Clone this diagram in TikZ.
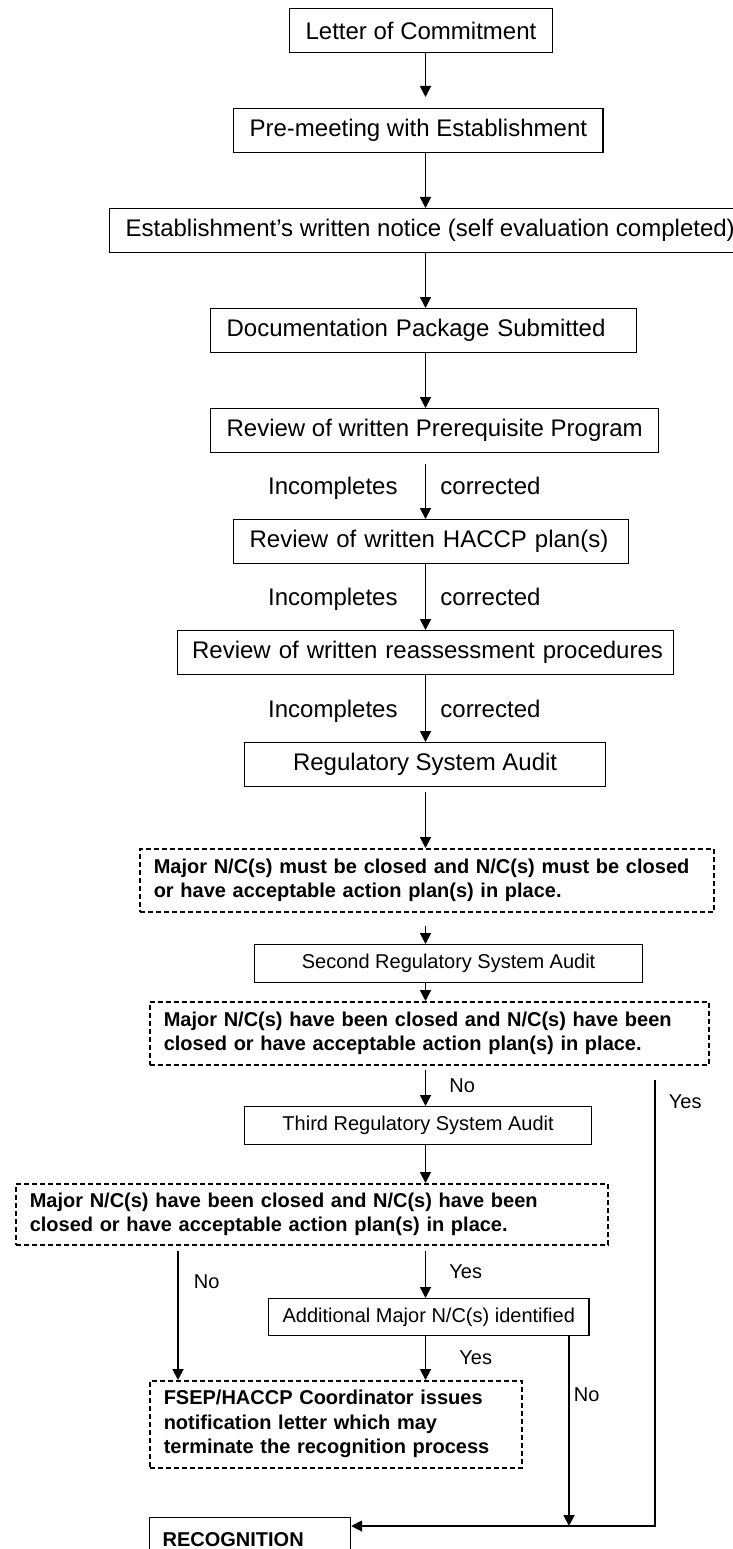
\documentclass[tikz,border=0pt]{standalone}
\usepackage{fontspec}
\setmainfont{Liberation Sans}
\usetikzlibrary{arrows.meta}
\tikzset{
  flow box/.style={
    rectangle, draw, line width=1.2pt, anchor=north west,
    inner xsep=16pt, inner ysep=0pt, minimum height=44pt,
    align=left, font=\fontsize{24}{28}\selectfont
  },
  audit box/.style={
    flow box, minimum height=38pt, align=center,
    font=\fontsize{20}{24}\selectfont
  },
  decision box/.style={
    rectangle, draw, line width=1.5pt, dash pattern=on 5pt off 3pt,
    anchor=north west, inner xsep=14pt, inner ysep=0pt, align=left,
    font=\fontsize{20}{24.5}\selectfont\bfseries
  },
  flow arrow/.style={-{Triangle[length=11pt,width=11pt]}, line width=1.8pt},
  flow label/.style={inner sep=0pt, font=\fontsize{20}{24}\selectfont},
  note label/.style={inner sep=0pt, yshift=-8.5pt, font=\fontsize{24}{28}\selectfont}
}

\begin{document}
\begin{tikzpicture}[x=1pt, y=-1pt]
  \useasboundingbox (0,0) rectangle (732,1549);

  % document review
  \node[flow box] (commit) at (289,8) {Letter of Commitment};
  \node[flow box] (premeet) at (233,108) {Pre-meeting with Establishment};
  \node[flow box] (notice) at (109,208) {Establishment’s written notice (self evaluation completed)};
  \node[flow box, text width=394pt] (docs) at (210,308) {Documentation Package Submitted};
  \node[flow box] (prereq) at (210,408) {Review of written Prerequisite Program};
  \node[flow box, text width=363pt] (haccp) at (233,519) {Review of written HACCP plan(s)};
  \node[flow box, inner xsep=14.5pt, text width=467pt] (reassess) at (177,630) {\mbox{Review of written reassessment procedures}};

  % audits
  \node[flow box, align=center, minimum width=361pt] (audit) at (244,742) {Regulatory System Audit};
  \node[decision box, text width=546pt, minimum height=63pt] (mustclose) at (139,848)
    {Major N/C(s) must be closed and N/C(s) must be closed\\or have acceptable action plan(s) in place.};
  \node[audit box, minimum width=388pt] (second) at (254,944) {Second Regulatory System Audit};
  \node[decision box, text width=531pt, minimum height=63pt] (closedtwo) at (149,1001)
    {Major N/C(s) have been closed and N/C(s) have been\\closed or have acceptable action plan(s) in place.};
  \node[audit box, minimum width=347pt] (third) at (244,1106) {Third Regulatory System Audit};
  \node[decision box, text width=564pt, minimum height=61pt] (closedthree) at (15,1183)
    {Major N/C(s) have been closed and N/C(s) have been\\closed or have acceptable action plan(s) in place.};
  \node[audit box, inner xsep=14pt, minimum height=37pt] (additional) at (268,1298) {Additional Major N/C(s) identified};
  \node[decision box, text width=344pt, minimum height=87pt] (notify) at (149,1380)
    {FSEP/HACCP Coordinator issues\\notification letter which may\\terminate the recognition process};
  \node[flow box, inner xsep=13pt, text width=175pt, font=\fontsize{20}{24}\selectfont\bfseries] (recognition) at (149,1517) {RECOGNITION};

  \coordinate (spine) at (425.5,0);
  \coordinate (leftx) at (178,0);
  \coordinate (noend) at (569,1526);
  \coordinate (joint) at (655,1526);

  \draw[flow arrow, shorten >=11pt] (commit.south -| spine) -- (premeet.north -| spine);
  \draw[flow arrow] (premeet.south -| spine) -- (notice.north -| spine);
  \draw[flow arrow] (notice.south -| spine) -- (docs.north -| spine);
  \draw[flow arrow] (docs.south -| spine) -- (prereq.north -| spine);
  \draw[flow arrow, shorten <=11pt] (prereq.south -| spine) --
    node[note label, anchor=base east, xshift=-27pt] {Incompletes}
    node[note label, anchor=base west, xshift=14pt] {corrected} (haccp.north -| spine);
  \draw[flow arrow] (haccp.south -| spine) --
    node[note label, anchor=base east, xshift=-27pt] {Incompletes}
    node[note label, anchor=base west, xshift=14pt] {corrected} (reassess.north -| spine);
  \draw[flow arrow] (reassess.south -| spine) --
    node[note label, anchor=base east, xshift=-27pt] {Incompletes}
    node[note label, anchor=base west, xshift=14pt] {corrected} (audit.north -| spine);
  \draw[flow arrow, shorten <=5pt] (audit.south -| spine) -- (mustclose.north -| spine);
  \draw[flow arrow, shorten <=13pt] (mustclose.south -| spine) -- (second.north -| spine);
  \draw[flow arrow] (second.south -| spine) -- (closedtwo.north -| spine);
  \draw[flow arrow, shorten <=4pt] (closedtwo.south -| spine) --
    node[flow label, right=23pt] {No} (third.north -| spine);
  \draw[flow arrow] (third.south -| spine) -- (closedthree.north -| spine);
  \draw[flow arrow, shorten <=5pt] (closedthree.south -| spine) --
    node[flow label, right=23pt] {Yes} (additional.north -| spine);
  \draw[flow arrow] (additional.south -| spine) --
    node[flow label, right=33pt] {Yes} (notify.north -| spine);
  \draw[flow arrow, shorten <=5pt] (closedthree.south -| leftx) --
    node[flow label, pos=0.27, right=15pt] {No} (notify.north -| leftx);
  \draw[flow arrow] (additional.south -| noend) --
    node[flow label, pos=0.31, right=4pt] {No} (noend);
  \draw[flow arrow, shorten <=14pt] (closedtwo.south -| joint) --
    node[flow label, pos=0.078, right=13pt] {Yes} (joint) -- (recognition.east |- joint);
\end{tikzpicture}
\end{document}
